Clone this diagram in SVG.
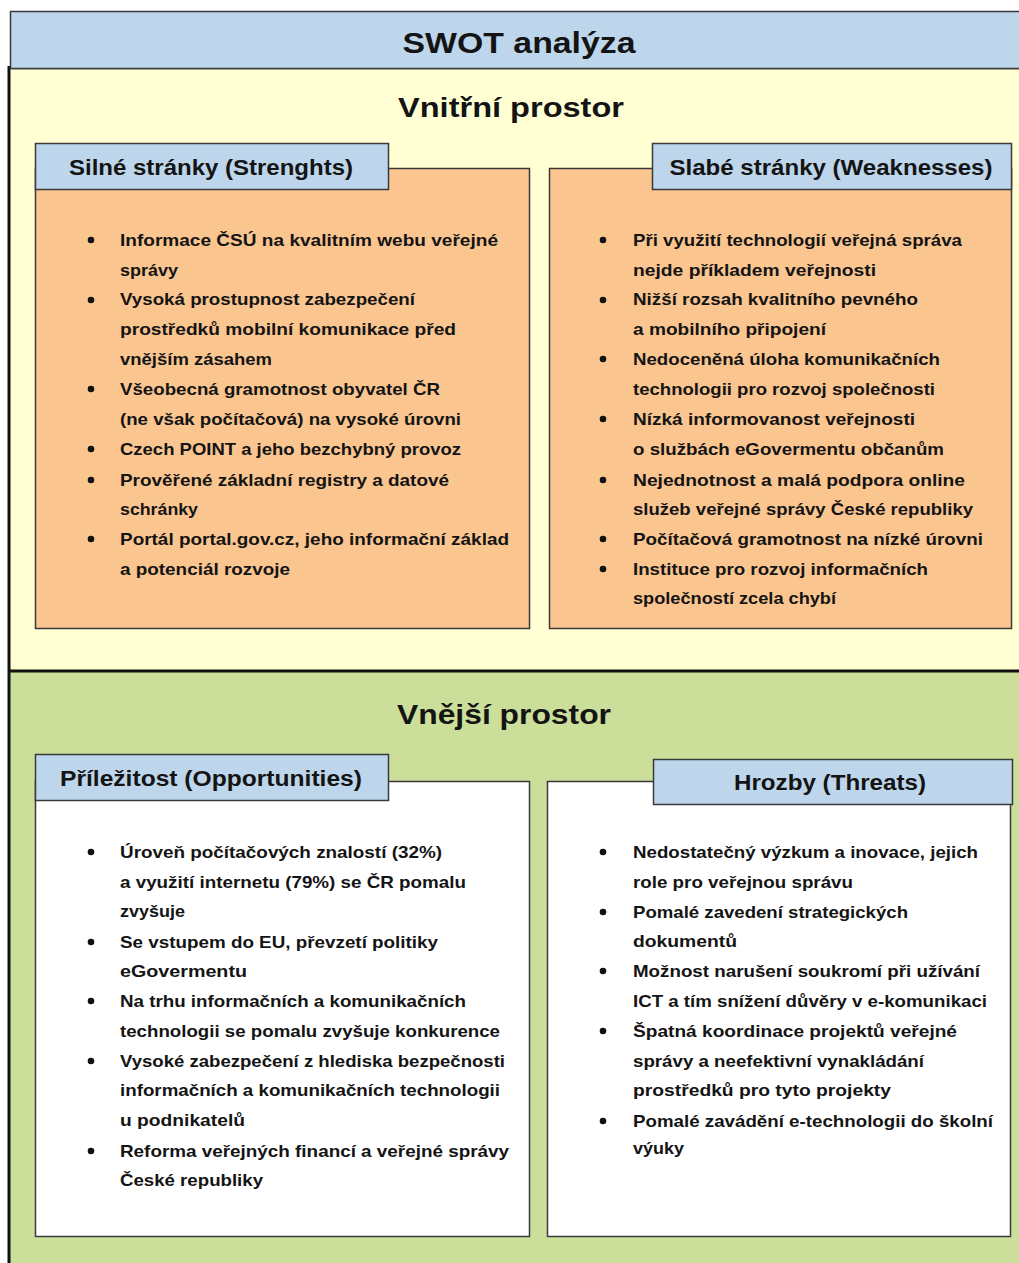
<svg xmlns="http://www.w3.org/2000/svg" width="1019" height="1263" viewBox="0 0 1019 1263">
<style>
text{font-family:"Liberation Sans",Arial,sans-serif;font-weight:bold;fill:#141414}
.t{font-size:16.5px}
.h{font-size:22px}
.big{font-size:29px}
.sec{font-size:28px}
.box{stroke:#3a3a3a;stroke-width:1.5}
.blue{fill:#BDD6EC}
.orange{fill:#FBC590}
.white{fill:#FFFFFF}
.dot{fill:#111}
</style>
<rect width="1019" height="1263" fill="#FFFFFF"/>
<!-- regions -->
<rect x="9" y="68" width="1012" height="604" fill="#FFFFD3"/>
<rect x="9" y="672" width="1012" height="600" fill="#CBDF9A"/>
<line x1="9" y1="68.5" x2="1019" y2="68.5" stroke="#333" stroke-width="1.5"/>
<line x1="9" y1="671" x2="1019" y2="671" stroke="#111" stroke-width="3"/>
<line x1="9" y1="66" x2="9" y2="1263" stroke="#111" stroke-width="3"/>
<g id="title">
<rect x="10.5" y="11.5" width="1015" height="57" class="box blue"/>
<text x="519" y="53" class="big" text-anchor="middle" textLength="233" lengthAdjust="spacingAndGlyphs">SWOT analýza</text>
</g>
<g id="inner-label"><text x="511" y="117" class="sec" text-anchor="middle" textLength="226" lengthAdjust="spacingAndGlyphs">Vnitřní prostor</text></g>
<g id="outer-label"><text x="504" y="724" class="sec" text-anchor="middle" textLength="214" lengthAdjust="spacingAndGlyphs">Vnější prostor</text></g>
<g id="connectors"></g>

<g id="strengths">
<rect x="35.5" y="168.5" width="494" height="460" class="box orange"/>
<rect x="35.5" y="143.5" width="353" height="46" class="box blue"/>
<text x="211" y="175" class="h" text-anchor="middle" textLength="284" lengthAdjust="spacingAndGlyphs">Silné stránky (Strenghts)</text>
<circle cx="91" cy="240" r="3.3" class="dot"/>
<circle cx="91" cy="300" r="3.3" class="dot"/>
<circle cx="91" cy="389" r="3.3" class="dot"/>
<circle cx="91" cy="449" r="3.3" class="dot"/>
<circle cx="91" cy="480" r="3.3" class="dot"/>
<circle cx="91" cy="539" r="3.3" class="dot"/>
<text x="120" y="246" class="t" textLength="378" lengthAdjust="spacingAndGlyphs">Informace ČSÚ na kvalitním webu veřejné</text>
<text x="120" y="276" class="t" textLength="58" lengthAdjust="spacingAndGlyphs">správy</text>
<text x="120" y="305" class="t" textLength="295" lengthAdjust="spacingAndGlyphs">Vysoká prostupnost zabezpečení</text>
<text x="120" y="335" class="t" textLength="336" lengthAdjust="spacingAndGlyphs">prostředků mobilní komunikace před</text>
<text x="120" y="365" class="t" textLength="152" lengthAdjust="spacingAndGlyphs">vnějším zásahem</text>
<text x="120" y="395" class="t" textLength="320" lengthAdjust="spacingAndGlyphs">Všeobecná gramotnost obyvatel ČR</text>
<text x="120" y="425" class="t" textLength="341" lengthAdjust="spacingAndGlyphs">(ne však počítačová)  na vysoké úrovni</text>
<text x="120" y="455" class="t" textLength="341" lengthAdjust="spacingAndGlyphs">Czech POINT a jeho bezchybný provoz</text>
<text x="120" y="486" class="t" textLength="329" lengthAdjust="spacingAndGlyphs">Prověřené základní  registry a datové</text>
<text x="120" y="515" class="t" textLength="78" lengthAdjust="spacingAndGlyphs">schránky</text>
<text x="120" y="545" class="t" textLength="389" lengthAdjust="spacingAndGlyphs">Portál portal.gov.cz, jeho informační základ</text>
<text x="120" y="575" class="t" textLength="170" lengthAdjust="spacingAndGlyphs">a potenciál  rozvoje</text>
</g>

<g id="weaknesses">
<rect x="549.5" y="168.5" width="462" height="460" class="box orange"/>
<rect x="652.5" y="143.5" width="359" height="46" class="box blue"/>
<text x="831" y="175" class="h" text-anchor="middle" textLength="323" lengthAdjust="spacingAndGlyphs">Slabé stránky (Weaknesses)</text>
<circle cx="603" cy="240" r="3.3" class="dot"/>
<circle cx="603" cy="300" r="3.3" class="dot"/>
<circle cx="603" cy="359" r="3.3" class="dot"/>
<circle cx="603" cy="419" r="3.3" class="dot"/>
<circle cx="603" cy="480" r="3.3" class="dot"/>
<circle cx="603" cy="539" r="3.3" class="dot"/>
<circle cx="603" cy="569" r="3.3" class="dot"/>
<text x="633" y="246" class="t" textLength="329" lengthAdjust="spacingAndGlyphs">Při využití technologií veřejná správa</text>
<text x="633" y="276" class="t" textLength="243" lengthAdjust="spacingAndGlyphs">nejde příkladem veřejnosti</text>
<text x="633" y="305" class="t" textLength="285" lengthAdjust="spacingAndGlyphs">Nižší rozsah kvalitního  pevného</text>
<text x="633" y="335" class="t" textLength="193" lengthAdjust="spacingAndGlyphs">a mobilního připojení</text>
<text x="633" y="365" class="t" textLength="307" lengthAdjust="spacingAndGlyphs">Nedoceněná úloha komunikačních</text>
<text x="633" y="395" class="t" textLength="302" lengthAdjust="spacingAndGlyphs">technologii pro rozvoj společnosti</text>
<text x="633" y="425" class="t" textLength="282" lengthAdjust="spacingAndGlyphs">Nízká informovanost veřejnosti</text>
<text x="633" y="455" class="t" textLength="311" lengthAdjust="spacingAndGlyphs">o službách  eGovermentu občanům</text>
<text x="633" y="486" class="t" textLength="332" lengthAdjust="spacingAndGlyphs">Nejednotnost a malá podpora online</text>
<text x="633" y="515" class="t" textLength="340" lengthAdjust="spacingAndGlyphs">služeb veřejné správy České republiky</text>
<text x="633" y="545" class="t" textLength="350" lengthAdjust="spacingAndGlyphs">Počítačová  gramotnost na nízké úrovni</text>
<text x="633" y="575" class="t" textLength="295" lengthAdjust="spacingAndGlyphs">Instituce pro rozvoj informačních</text>
<text x="633" y="604" class="t" textLength="203" lengthAdjust="spacingAndGlyphs">společností zcela chybí</text>
</g>

<g id="opportunities">
<rect x="35.5" y="781.5" width="494" height="455" class="box white"/>
<rect x="35.5" y="754.5" width="353" height="46" class="box blue"/>
<text x="211" y="786" class="h" text-anchor="middle" textLength="302" lengthAdjust="spacingAndGlyphs">Příležitost (Opportunities)</text>
<circle cx="91" cy="852" r="3.3" class="dot"/>
<circle cx="91" cy="942" r="3.3" class="dot"/>
<circle cx="91" cy="1001" r="3.3" class="dot"/>
<circle cx="91" cy="1061" r="3.3" class="dot"/>
<circle cx="91" cy="1151" r="3.3" class="dot"/>
<text x="120" y="858" class="t" textLength="322" lengthAdjust="spacingAndGlyphs">Úroveň počítačových  znalostí (32%)</text>
<text x="120" y="888" class="t" textLength="346" lengthAdjust="spacingAndGlyphs">a využití  internetu (79%) se ČR pomalu</text>
<text x="120" y="917" class="t" textLength="65" lengthAdjust="spacingAndGlyphs">zvyšuje</text>
<text x="120" y="948" class="t" textLength="318" lengthAdjust="spacingAndGlyphs">Se vstupem do EU,  převzetí politiky</text>
<text x="120" y="977" class="t" textLength="127" lengthAdjust="spacingAndGlyphs">eGovermentu</text>
<text x="120" y="1007" class="t" textLength="346" lengthAdjust="spacingAndGlyphs">Na trhu informačních  a komunikačních</text>
<text x="120" y="1037" class="t" textLength="380" lengthAdjust="spacingAndGlyphs">technologii se pomalu zvyšuje konkurence</text>
<text x="120" y="1067" class="t" textLength="385" lengthAdjust="spacingAndGlyphs">Vysoké zabezpečení z hlediska bezpečnosti</text>
<text x="120" y="1096" class="t" textLength="380" lengthAdjust="spacingAndGlyphs">informačních a komunikačních  technologii</text>
<text x="120" y="1126" class="t" textLength="125" lengthAdjust="spacingAndGlyphs">u podnikatelů</text>
<text x="120" y="1157" class="t" textLength="389" lengthAdjust="spacingAndGlyphs">Reforma veřejných financí  a veřejné správy</text>
<text x="120" y="1186" class="t" textLength="143" lengthAdjust="spacingAndGlyphs">České republiky</text>
</g>

<g id="threats">
<rect x="547.5" y="781.5" width="463" height="455" class="box white"/>
<rect x="653.5" y="759.5" width="359" height="45" class="box blue"/>
<text x="830" y="790" class="h" text-anchor="middle" textLength="192" lengthAdjust="spacingAndGlyphs">Hrozby (Threats)</text>
<circle cx="603" cy="852" r="3.3" class="dot"/>
<circle cx="603" cy="912" r="3.3" class="dot"/>
<circle cx="603" cy="971" r="3.3" class="dot"/>
<circle cx="603" cy="1031" r="3.3" class="dot"/>
<circle cx="603" cy="1121" r="3.3" class="dot"/>
<text x="633" y="858" class="t" textLength="345" lengthAdjust="spacingAndGlyphs">Nedostatečný výzkum a inovace, jejich</text>
<text x="633" y="888" class="t" textLength="220" lengthAdjust="spacingAndGlyphs">role pro veřejnou správu</text>
<text x="633" y="918" class="t" textLength="275" lengthAdjust="spacingAndGlyphs">Pomalé zavedení strategických</text>
<text x="633" y="947" class="t" textLength="104" lengthAdjust="spacingAndGlyphs">dokumentů</text>
<text x="633" y="977" class="t" textLength="347" lengthAdjust="spacingAndGlyphs">Možnost narušení soukromí při užívání</text>
<text x="633" y="1007" class="t" textLength="354" lengthAdjust="spacingAndGlyphs">ICT a tím snížení důvěry v e-komunikaci</text>
<text x="633" y="1037" class="t" textLength="324" lengthAdjust="spacingAndGlyphs">Špatná koordinace projektů veřejné</text>
<text x="633" y="1067" class="t" textLength="291" lengthAdjust="spacingAndGlyphs">správy a neefektivní vynakládání</text>
<text x="633" y="1096" class="t" textLength="258" lengthAdjust="spacingAndGlyphs">prostředků pro tyto projekty</text>
<text x="633" y="1127" class="t" textLength="360" lengthAdjust="spacingAndGlyphs">Pomalé zavádění e-technologii do školní</text>
<text x="633" y="1154" class="t" textLength="51" lengthAdjust="spacingAndGlyphs">výuky</text>
</g>
</svg>
